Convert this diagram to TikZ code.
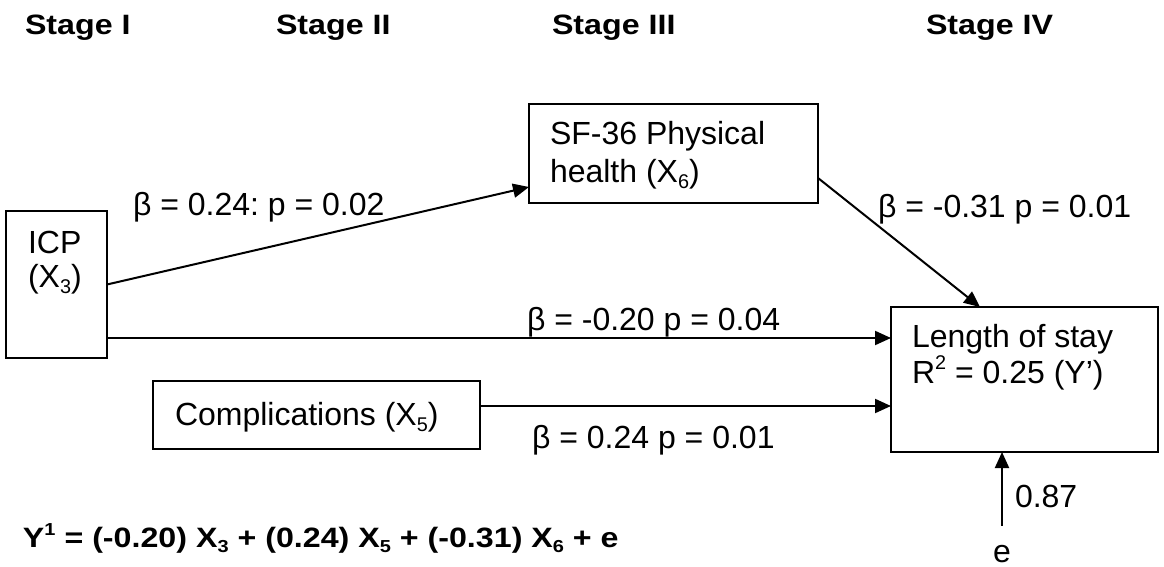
\documentclass[tikz,border=0pt]{standalone}
\usepackage{fontspec}
\setmainfont{Liberation Sans}
\usepackage{graphicx}
\usetikzlibrary{arrows.meta}
\frenchspacing

% small raised / lowered indices in the text font
\newcommand\lsub[1]{\raisebox{-0.2em}{\scalebox{0.62}{#1}}}
\newcommand\lsup[1]{\raisebox{0.42em}{\scalebox{0.62}{#1}}}
% bold headings are set slightly wide
\newcommand\widebold[1]{\scalebox{1.15}[1]{#1}}

\begin{document}
\begin{tikzpicture}[x=1pt,y=-1pt,
  every node/.style={inner sep=0pt, outer sep=0pt},
  box/.style={draw, line width=2.2pt, anchor=north west},
  txt/.style={anchor=base west, align=left, font=\fontsize{32}{36}\selectfont},
  head/.style={anchor=base west, font=\fontsize{28}{32}\selectfont\bfseries},
  arr/.style={line width=2pt, -{Triangle[length=16pt,width=14pt]}}
]
\fill[white] (0,0) rectangle (1164,567);
\useasboundingbox (0,0) rectangle (1164,567);

% stage headings
\node[head] (s1) at (25,35)  {\widebold{Stage I}};
\node[head] (s2) at (276,35) {\widebold{Stage II}};
\node[head] (s3) at (552,35) {\widebold{Stage III}};
\node[head] (s4) at (926,35) {\widebold{Stage IV}};

% variable boxes
\node[box, minimum width=101pt, minimum height=147pt] (icp)  at (6,211) {};
\node[box, minimum width=289pt, minimum height=99pt]  (sf)   at (529,104) {};
\node[box, minimum width=327pt, minimum height=68pt]  (comp) at (153,381) {};
\node[box, minimum width=267pt, minimum height=145pt] (los)  at (891,307) {};

% box texts (placed by the baseline of their last line)
\node[txt, font=\fontsize{32}{34}\selectfont] (icpt) at (28,287) {ICP\\(X\lsub{3})};
\node[txt, font=\fontsize{32}{37}\selectfont] (sft) at (550,182) {SF-36 Physical\\health (X\lsub{6})};
\node[txt] (compt) at (175,425) {Complications (X\lsub{5})};
\node[txt, font=\fontsize{32}{36}\selectfont] (lost) at (912,383) {Length of stay\\R\lsup{2} = 0.25 (Y')};

% error term
\node[txt, anchor=base] (e) at (1002,562) {e};

% paths
\draw[arr] (icp.east) -- ([yshift=16pt]sf.south west);
\draw[arr] ([yshift=-53.5pt]icp.east) -- ([yshift=-53.5pt]icp.east -| los.west);
\draw[arr] ([yshift=9pt]comp.east) -- ([yshift=9pt]comp.east -| los.west);
\draw[arr] ([yshift=25pt]sf.south east) -- ([xshift=89pt]los.north west);
\draw[arr, shorten <=19pt] (e.north) -- (e.north |- los.south);

% path coefficients
\node[txt] (b1) at (133,215) {β = 0.24: p = 0.02};
\node[txt] (b2) at (878,217) {β = -0.31 p = 0.01};
\node[txt] (b3) at (527,330) {β = -0.20 p = 0.04};
\node[txt] (b4) at (532,448) {β = 0.24 p = 0.01};
\node[txt] (b5) at (1015,507) {0.87};

% regression equation
\node[head] (eq) at (23,547) {\widebold{Y\lsup{1} = (-0.20) X\lsub{3} + (0.24) X\lsub{5} + (-0.31) X\lsub{6} + e}};
\end{tikzpicture}
\end{document}
